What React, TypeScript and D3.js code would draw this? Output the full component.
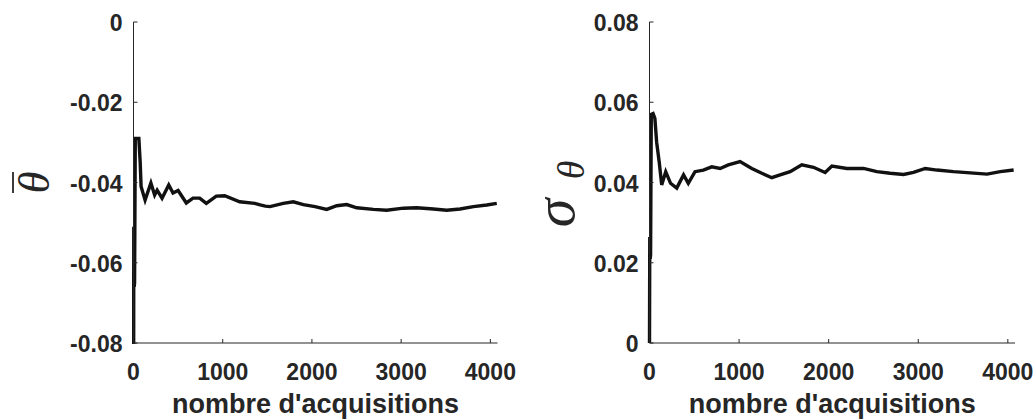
import React from "react";
import * as d3 from "d3";

// Left panel: mean theta vs number of acquisitions
const meanX = [0, 2, 3, 6, 8, 12, 20, 40, 60, 75, 85, 130, 195, 237, 265, 320, 395, 443, 500, 592, 667, 742, 816, 928, 1022, 1190, 1359, 1420, 1478, 1530, 1679, 1791, 1904, 2035, 2166, 2278, 2390, 2502, 2689, 2838, 3025, 3175, 3361, 3511, 3660, 3810, 3960, 4072];
const meanY = [-0.085, -0.08, -0.051, -0.052, -0.066, -0.065, -0.029, -0.029, -0.029, -0.035, -0.041, -0.0444, -0.0401, -0.0431, -0.0419, -0.0439, -0.0406, -0.0426, -0.042, -0.0451, -0.0439, -0.0439, -0.0452, -0.0434, -0.0433, -0.0448, -0.0452, -0.0456, -0.0459, -0.046, -0.0452, -0.0448, -0.0455, -0.046, -0.0467, -0.0458, -0.0455, -0.0463, -0.0467, -0.0469, -0.0464, -0.0463, -0.0466, -0.0469, -0.0466, -0.046, -0.0456, -0.0452];

// Right panel: std of theta vs number of acquisitions
const stdX = [0, 3, 5, 8, 12, 20, 40, 60, 80, 110, 136, 181, 235, 304, 380, 433, 508, 601, 695, 788, 880, 1011, 1142, 1254, 1365, 1458, 1570, 1700, 1830, 1961, 2036, 2203, 2389, 2538, 2687, 2836, 2947, 3078, 3209, 3394, 3581, 3768, 3916, 4065];
const stdY = [0.0, 0.026, 0.026, 0.021, 0.022, 0.057, 0.0572, 0.056, 0.05, 0.0448, 0.0394, 0.0427, 0.0398, 0.0386, 0.0419, 0.0398, 0.0427, 0.0431, 0.0439, 0.0435, 0.0444, 0.0452, 0.0435, 0.0423, 0.0412, 0.0419, 0.0427, 0.0444, 0.0438, 0.0425, 0.0441, 0.0435, 0.0435, 0.0427, 0.0423, 0.042, 0.0425, 0.0435, 0.0431, 0.0427, 0.0424, 0.0421, 0.0427, 0.0431];

const xTicks = [0, 1000, 2000, 3000, 4000];
const meanTicks = [-0.08, -0.06, -0.04, -0.02, 0];
const stdTicks = [0, 0.02, 0.04, 0.06, 0.08];
const xLabel = "nombre d'acquisitions";

const W = 1035;
const H = 419;
const AX = "#262626";
const FONT = "'Liberation Sans', Arial, sans-serif";
const SERIF = "'Liberation Serif', 'Times New Roman', serif";

type PanelProps = {
  left: number;
  right: number;
  xs: number[];
  ys: number[];
  yDomain: [number, number];
  yTicks: number[];
  fmt: (v: number) => string;
  yLabel: React.ReactNode;
};

function Panel({ left, right, xs, ys, yDomain, yTicks, fmt, yLabel }: PanelProps) {
  const top = 22;
  const bottom = 343;
  const x = d3.scaleLinear().domain([0, 4080]).range([left, right]);
  const y = d3.scaleLinear().domain(yDomain).range([bottom, top]);
  const pts = xs.map((v, i) => [v, ys[i]] as [number, number]);
  const line = d3
    .line<[number, number]>()
    .x((d) => x(d[0]))
    .y((d) => y(d[1]));
  const clipId = `clip${Math.round(left)}`;
  return (
    <g>
      <defs>
        <clipPath id={clipId}>
          <rect x={left - 4} y={top} width={right - left + 4} height={bottom - top + 1} />
        </clipPath>
      </defs>
      <path
        d={line(pts) || ""}
        fill="none"
        stroke="#111"
        strokeWidth={3.4}
        strokeLinejoin="miter"
        clipPath={`url(#${clipId})`}
      />
      <line x1={left} x2={left} y1={top} y2={bottom} stroke={AX} strokeWidth={1} />
      <line x1={left} x2={right} y1={bottom} y2={bottom} stroke={AX} strokeWidth={1} />
      {xTicks.map((t) => (
        <g key={"x" + t}>
          <line x1={x(t)} x2={x(t)} y1={bottom} y2={bottom - 4} stroke={AX} strokeWidth={1} />
          <text
            x={x(t)}
            y={380}
            textAnchor="middle"
            fontFamily={FONT}
            fontWeight="bold"
            fontSize={23}
            fill={AX}
          >
            {t}
          </text>
        </g>
      ))}
      {yTicks.map((t) => (
        <g key={"y" + t}>
          <line x1={left} x2={left + 4} y1={y(t)} y2={y(t)} stroke={AX} strokeWidth={1} />
          <text
            x={left - 11}
            y={y(t) + 9}
            textAnchor="end"
            fontFamily={FONT}
            fontWeight="bold"
            fontSize={23}
            fill={AX}
          >
            {fmt(t)}
          </text>
        </g>
      ))}
      <text
        x={(left + right) / 2}
        y={413}
        textAnchor="middle"
        fontFamily={FONT}
        fontWeight="bold"
        fontSize={27}
        fill={AX}
      >
        {xLabel}
      </text>
      {yLabel}
    </g>
  );
}

export default function App() {
  const fmtMean = (v: number) => (v === 0 ? "0" : d3.format(".2f")(v).replace("−", "-"));
  const fmtStd = (v: number) => (v === 0 ? "0" : d3.format(".2f")(v));
  return (
    <svg
      width={W}
      height={H}
      style={{ position: "absolute", left: 0, top: 0, background: "#fff" }}
    >
      <rect width={W} height={H} fill="#fff" />
      <Panel
        left={133.5}
        right={497.5}
        xs={meanX}
        ys={meanY}
        yDomain={[-0.08, 0]}
        yTicks={meanTicks}
        fmt={fmtMean}
        yLabel={
          <g transform="translate(49,182.5) rotate(-90)">
            <text
              x={0}
              y={0}
              textAnchor="middle"
              fontFamily={SERIF}
              fontStyle="italic"
              fontSize={45}
              fill={AX}
            >
              θ
            </text>
            <line x1={-10.5} x2={10.5} y1={-36} y2={-36} stroke={AX} strokeWidth={1.8} />
          </g>
        }
      />
      <Panel
        left={649.5}
        right={1015}
        xs={stdX}
        ys={stdY}
        yDomain={[0, 0.08]}
        yTicks={stdTicks}
        fmt={fmtStd}
        yLabel={
          <g>
            <text
              transform="translate(574,213) rotate(-90)"
              textAnchor="middle"
              fontFamily={SERIF}
              fontStyle="italic"
              fontSize={58}
              fill={AX}
            >
              σ
            </text>
            <text
              transform="translate(584,170) rotate(-90)"
              textAnchor="middle"
              fontFamily={SERIF}
              fontStyle="italic"
              fontSize={38}
              fill={AX}
            >
              θ
            </text>
          </g>
        }
      />
    </svg>
  );
}
